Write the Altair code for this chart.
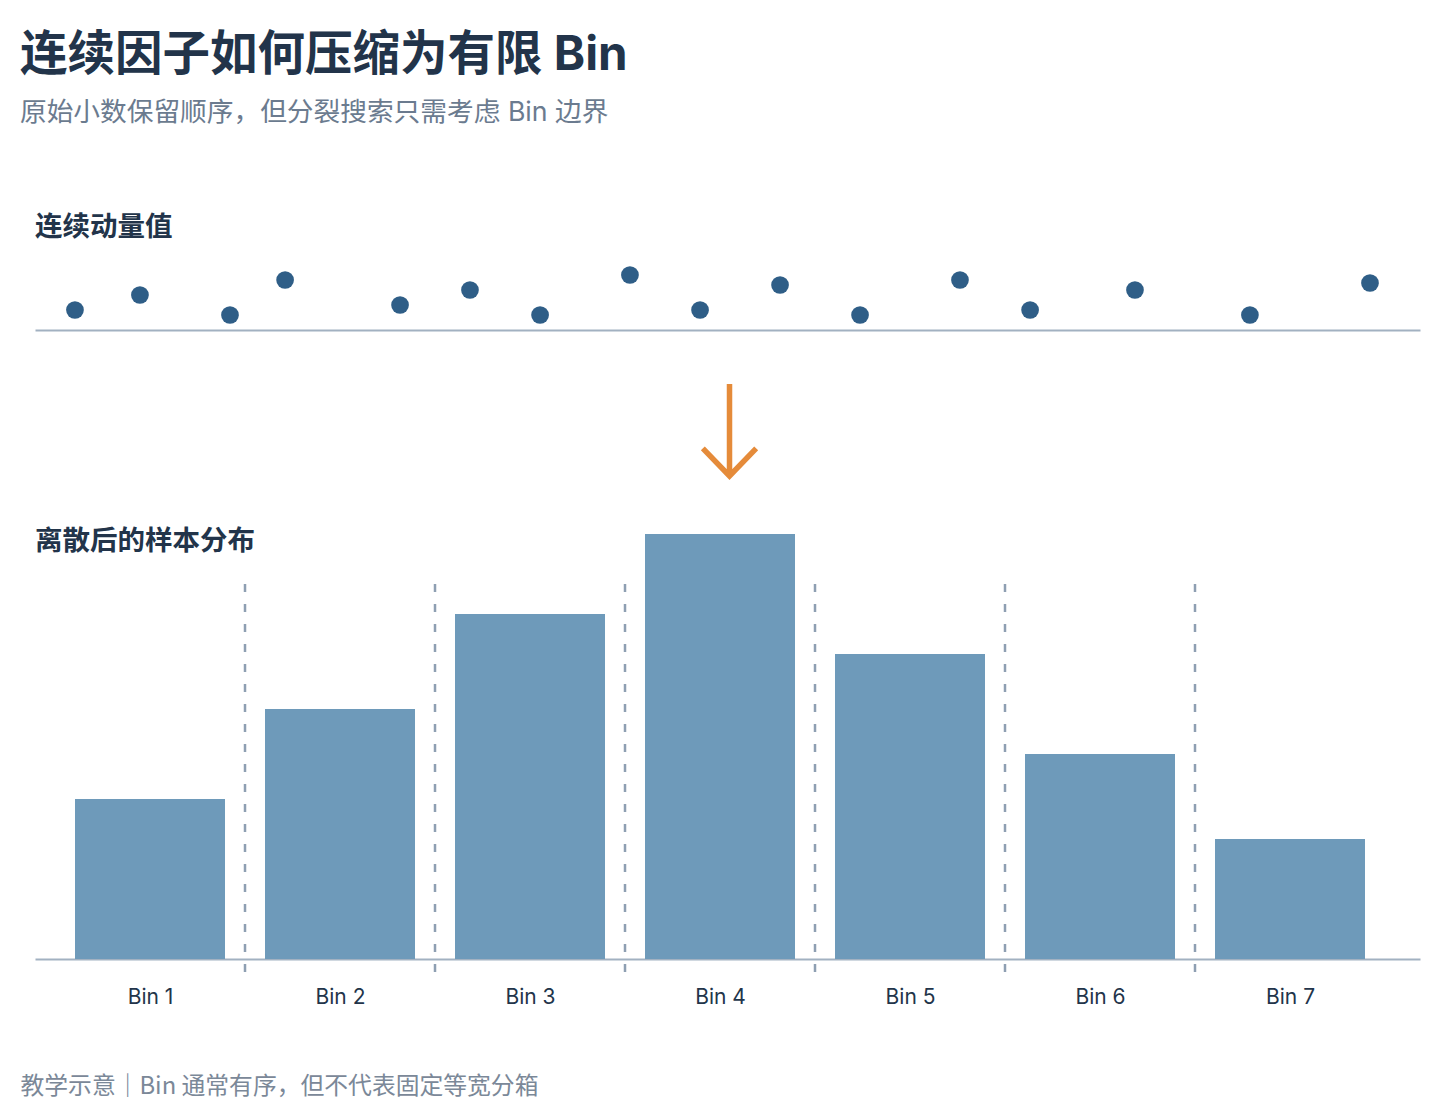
import altair as alt
import pandas as pd

# ---- text ----
TITLE = "连续因子如何压缩为有限 Bin"
SUBTITLE = "原始小数保留顺序，但分裂搜索只需考虑 Bin 边界"
TOP_LABEL = "连续动量值"
BOTTOM_LABEL = "离散后的样本分布"
FOOTER = "教学示意｜Bin 通常有序，但不代表固定等宽分箱"

# ---- data ----
# continuous factor values (position in bin units) and their vertical jitter
dot_position = [0.605, 0.947, 1.421, 1.711, 2.316, 2.684, 3.053, 3.526,
                3.895, 4.316, 4.737, 5.263, 5.632, 6.184, 6.789, 7.421]
dot_jitter = [20, 35, 15, 50, 25, 40, 15, 55, 20, 45, 15, 50, 20, 40, 15, 47]

bin_index = [1, 2, 3, 4, 5, 6, 7]
bin_count = [32, 50, 69, 85, 61, 41, 24]
bin_boundary = [1.5, 2.5, 3.5, 4.5, 5.5, 6.5]
boundary_top = [75] * 6
boundary_bottom = [-3] * 6

arrow_x = [4.05]
arrow_y = [79]

X_DOMAIN = [0.3947, 7.6842]

# ---- style ----
FONT = "Inter, 'Noto Sans CJK SC', sans-serif"
CJK = "'Noto Sans CJK SC', sans-serif"
DARK = "#22344a"
SUB = "#6b7b8f"
FOOT = "#7b8898"
DOT = "#2f5e87"
BAR = "#6e9aba"
SEP = "#8e9fb2"
AXIS = "#a2b1c1"
ORANGE = "#e58b3a"
ARROW_PATH = "M0,-1L0,1M-0.58,0.4L0,1L0.58,0.4"

W = 1385

dots_df = pd.DataFrame({"position": dot_position, "jitter": dot_jitter})
bars_df = pd.DataFrame({"bin": bin_index, "count": bin_count})
sep_df = pd.DataFrame({"boundary": bin_boundary, "top": boundary_top, "bottom": boundary_bottom})
arrow_df = pd.DataFrame({"x": arrow_x, "y": arrow_y})

xscale = alt.Scale(domain=X_DOMAIN, nice=False, zero=False, padding=0)
yscale_bars = alt.Scale(domain=[0, 90], nice=False, padding=0)

bin_axis = alt.Axis(values=bin_index, labelExpr="'Bin ' + datum.value",
                    ticks=False, grid=False,
                    domainColor=AXIS, domainWidth=2,
                    labelFont=FONT, labelFontSize=21, labelColor=DARK, labelPadding=27.5,
                    title=FOOTER, titleFont=CJK, titleFontSize=23.8, titleFontWeight="normal",
                    titleColor=FOOT, titleAnchor="start", titleAlign="left",
                    titleBaseline="middle", titleX=-15, titleY=127)

dots = alt.Chart(dots_df).mark_circle(size=314, color=DOT, opacity=1).encode(
    x=alt.X("position:Q", scale=xscale,
            axis=alt.Axis(title=None, labels=False, ticks=False, grid=False,
                          domain=True, domainColor=AXIS, domainWidth=2)),
    y=alt.Y("jitter:Q", scale=alt.Scale(domain=[0, 70]), axis=None),
).properties(
    width=W, height=70,
    title=alt.TitleParams(TOP_LABEL, anchor="start", frame="group", font=CJK, fontSize=27.5,
                          fontWeight="bold", color=DARK, offset=19),
)

arrow = alt.Chart(arrow_df).mark_point(
    shape=ARROW_PATH, size=8464, filled=False, stroke=ORANGE, strokeWidth=5.5,
    opacity=1, strokeJoin="miter", strokeCap="butt",
).encode(
    x=alt.X("x:Q", scale=xscale, axis=None),
    y=alt.Y("y:Q", scale=alt.Scale(domain=[0, 179]), axis=None),
).properties(width=W, height=179)

bars = alt.Chart(bars_df).mark_bar(size=150, color=BAR).encode(
    x=alt.X("bin:Q", scale=xscale, axis=bin_axis),
    y=alt.Y("count:Q", scale=yscale_bars, axis=None),
)

seps = alt.Chart(sep_df).mark_rule(color=SEP, strokeWidth=2.5, strokeDash=[8, 12]).encode(
    x=alt.X("boundary:Q", scale=xscale, axis=bin_axis),
    y=alt.Y("top:Q", scale=yscale_bars, axis=None),
    y2="bottom:Q",
)

bar_panel = alt.layer(bars, seps).properties(
    width=W, height=450,
    title=alt.TitleParams(BOTTOM_LABEL, anchor="start", frame="group", font=CJK, fontSize=27.5,
                          fontWeight="bold", color=DARK, offset=-46),
)

chart = alt.vconcat(dots, arrow, bar_panel, spacing=0).properties(
    title=alt.TitleParams(
        TITLE, subtitle=SUBTITLE, anchor="start",
        font=FONT, fontSize=47.5, fontWeight="bold", color=DARK,
        subtitleFont=FONT, subtitleFontSize=26.7, subtitleColor=SUB,
        subtitleFontWeight="normal", subtitlePadding=20, offset=87,
    ),
    padding={"left": 12, "top": 24, "right": 10, "bottom": 10},
).configure(font=FONT).configure_view(stroke="transparent", strokeWidth=0)

chart.save("out.html", embed_options={"renderer": "svg", "actions": False})
